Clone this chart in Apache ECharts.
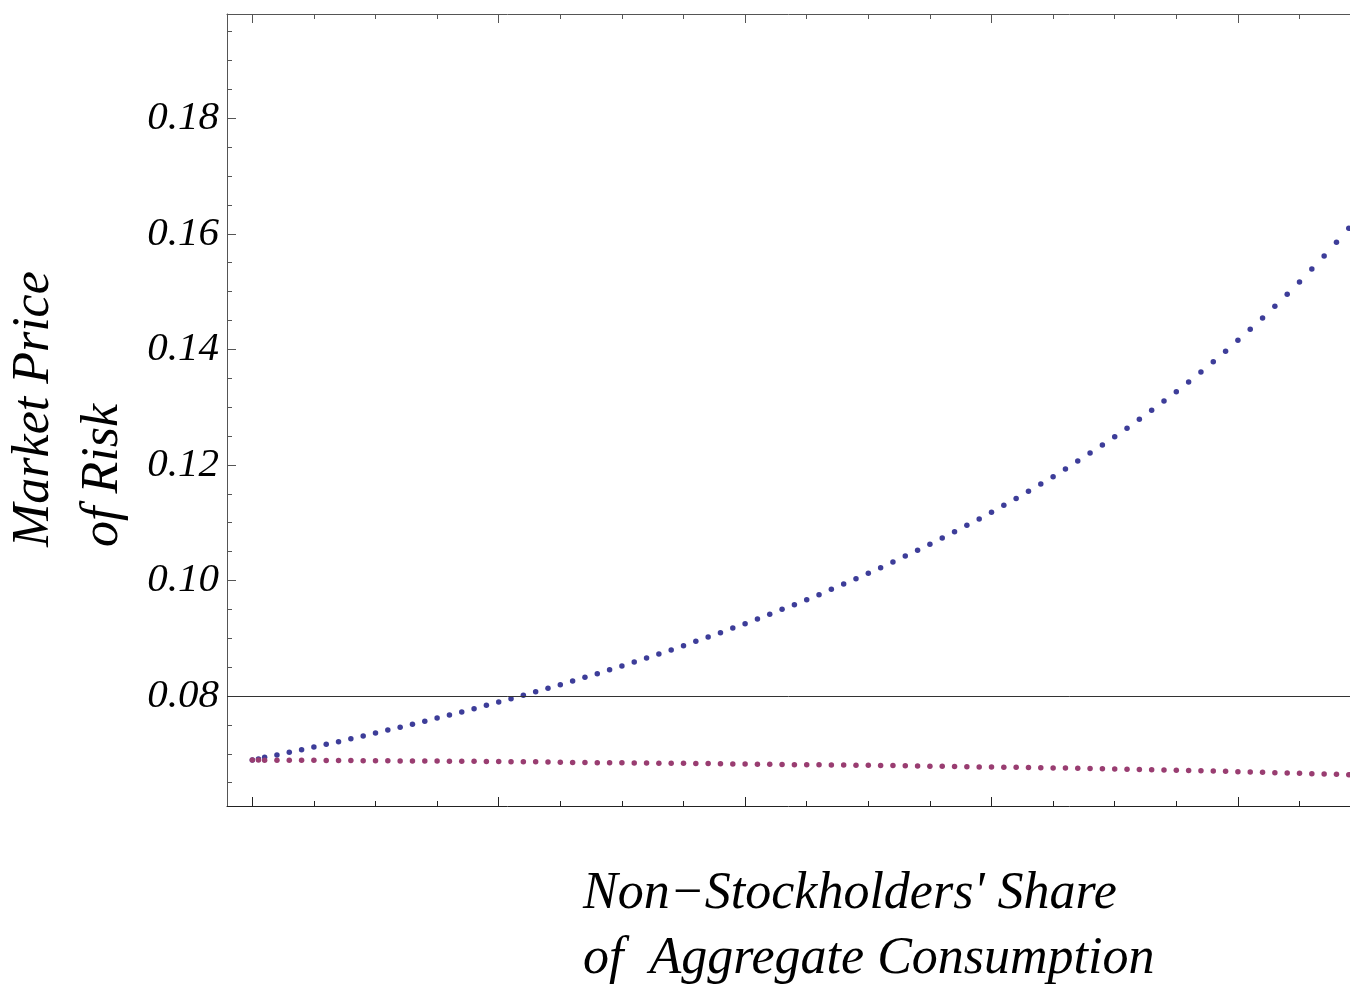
<!DOCTYPE html>
<html>
<head>
<meta charset="utf-8">
<script src="https://cdn.jsdelivr.net/npm/echarts@6/dist/echarts.min.js"></script>
<style>
html,body{margin:0;padding:0;background:#fff;}
#chart{width:1350px;height:994px;}
</style>
</head>
<body>
<div id="chart"></div>
<script>
// Non-stockholders' share (x, unlabelled in the original)
const xs = [0, 0.0025, 0.005, 0.01, 0.015, 0.02, 0.025, 0.03, 0.035, 0.04, 0.045, 0.05,
  0.055, 0.06, 0.065, 0.07, 0.075, 0.08, 0.085, 0.09, 0.095, 0.1,
  0.105, 0.11, 0.115, 0.12, 0.125, 0.13, 0.135, 0.14, 0.145, 0.15,
  0.155, 0.16, 0.165, 0.17, 0.175, 0.18, 0.185, 0.19, 0.195, 0.2,
  0.205, 0.21, 0.215, 0.22, 0.225, 0.23, 0.235, 0.24, 0.245, 0.25,
  0.255, 0.26, 0.265, 0.27, 0.275, 0.28, 0.285, 0.29, 0.295, 0.3,
  0.305, 0.31, 0.315, 0.32, 0.325, 0.33, 0.335, 0.34, 0.345, 0.35,
  0.355, 0.36, 0.365, 0.37, 0.375, 0.38, 0.385, 0.39, 0.395, 0.4,
  0.405, 0.41, 0.415, 0.42, 0.425, 0.43, 0.435, 0.44, 0.445];

// Market price of risk, upper (blue) series
const blueSeries = [0.06892, 0.06909, 0.06939, 0.06979, 0.07025, 0.07070, 0.07117, 0.07164, 0.07209, 0.07261, 0.07308, 0.07360,
  0.07411, 0.07458, 0.07510, 0.07562, 0.07619, 0.07671, 0.07723, 0.07780, 0.07839, 0.07896,
  0.07953, 0.08012, 0.08074, 0.08133, 0.08196, 0.08260, 0.08324, 0.08386, 0.08455, 0.08519,
  0.08589, 0.08658, 0.08727, 0.08796, 0.08871, 0.08947, 0.09021, 0.09096, 0.09177, 0.09252,
  0.09333, 0.09414, 0.09501, 0.09580, 0.09667, 0.09754, 0.09847, 0.09939, 0.10030, 0.10124,
  0.10221, 0.10320, 0.10423, 0.10522, 0.10626, 0.10735, 0.10844, 0.10955, 0.11064, 0.11180,
  0.11301, 0.11419, 0.11543, 0.11670, 0.11796, 0.11929, 0.12068, 0.12206, 0.12345, 0.12489,
  0.12634, 0.12790, 0.12945, 0.13106, 0.13267, 0.13435, 0.13608, 0.13787, 0.13967, 0.14157,
  0.14348, 0.14543, 0.14746, 0.14953, 0.15166, 0.15391, 0.15616, 0.15853, 0.16096];

// Market price of risk, lower (magenta) series
const pinkSeries = [0.06892, 0.06891, 0.06890, 0.06889, 0.06888, 0.06887, 0.06886, 0.06884, 0.06883, 0.06882, 0.06881, 0.06880,
  0.06878, 0.06877, 0.06875, 0.06874, 0.06873, 0.06872, 0.06871, 0.06869, 0.06868, 0.06866,
  0.06864, 0.06862, 0.06860, 0.06857, 0.06854, 0.06851, 0.06849, 0.06846, 0.06845, 0.06843,
  0.06841, 0.06840, 0.06838, 0.06836, 0.06834, 0.06832, 0.06830, 0.06828, 0.06825, 0.06822,
  0.06819, 0.06817, 0.06815, 0.06812, 0.06810, 0.06808, 0.06806, 0.06804, 0.06802, 0.06800,
  0.06797, 0.06795, 0.06791, 0.06788, 0.06786, 0.06782, 0.06779, 0.06776, 0.06773, 0.06770,
  0.06767, 0.06765, 0.06761, 0.06758, 0.06755, 0.06752, 0.06748, 0.06744, 0.06741, 0.06736,
  0.06733, 0.06729, 0.06724, 0.06719, 0.06715, 0.06712, 0.06707, 0.06702, 0.06697, 0.06690,
  0.06684, 0.06679, 0.06672, 0.06667, 0.06662, 0.06655, 0.06650, 0.06645, 0.06638];

// Ticks
const yMajorTicks = [0.08, 0.10, 0.12, 0.14, 0.16, 0.18];
const yMinorTicks = [0.065, 0.07, 0.075, 0.085, 0.09, 0.095, 0.105, 0.11, 0.115, 0.125, 0.13, 0.135,
  0.145, 0.15, 0.155, 0.165, 0.17, 0.175, 0.185, 0.19, 0.195];
const xMajorTicks = [0, 0.1, 0.2, 0.3, 0.4];
const xMinorTicks = [0.025, 0.05, 0.075, 0.125, 0.15, 0.175, 0.225, 0.25, 0.275, 0.325, 0.35, 0.375, 0.425];
const referenceLevel = 0.08;

const xTitle = ["Non\u2212Stockholders' Share", "of  Aggregate Consumption"];
const yTitle = ["Market Price", "of Risk"];

const X_MIN = -0.01027, X_MAX = 0.44549;
const Y_MIN = 0.06096, Y_MAX = 0.19806;

const FONT = '"Liberation Serif", "Times New Roman", serif';
const frameColor = '#555';

function xAx(pos, ticks, len, showLine, lineColor) {
  return {
    type: 'value', position: pos, min: X_MIN, max: X_MAX, scale: true,
    axisLine: { show: showLine, onZero: false, lineStyle: { color: lineColor, width: 1 } },
    axisTick: { show: true, inside: true, length: len, customValues: ticks, lineStyle: { color: lineColor, width: 1 } },
    axisLabel: { show: false, customValues: ticks },
    splitLine: { show: false }, minorTick: { show: false }
  };
}
function yAx(ticks, len, showLine, showLabel) {
  return {
    type: 'value', position: 'left', min: Y_MIN, max: Y_MAX, scale: true,
    axisLine: { show: showLine, onZero: false, lineStyle: { color: frameColor, width: 1 } },
    axisTick: { show: true, inside: true, length: len, customValues: ticks, lineStyle: { color: frameColor, width: 1 } },
    axisLabel: {
      show: showLabel, customValues: ticks, margin: 8,
      formatter: v => v.toFixed(2),
      fontFamily: FONT, fontStyle: 'italic', fontSize: 41, color: '#000'
    },
    splitLine: { show: false }
  };
}

const titleFont = 'italic 52px ' + FONT;
const chart = echarts.init(document.getElementById('chart'), null, { renderer: 'canvas' });
chart.setOption({
  animation: false,
  backgroundColor: '#fff',
  grid: { left: 227, right: 0, top: 14, bottom: 188, containLabel: false },
  xAxis: [
    xAx('bottom', xMajorTicks, 9, true, '#222'),
    xAx('bottom', xMinorTicks, 5, false, '#222'),
    xAx('top', xMajorTicks, 9, true, frameColor),
    xAx('top', xMinorTicks, 5, false, frameColor)
  ],
  yAxis: [
    yAx(yMajorTicks, 9, true, true),
    yAx(yMinorTicks, 5, false, false)
  ],
  series: [
    {
      type: 'scatter', name: 'upper', xAxisIndex: 0, yAxisIndex: 0,
      symbol: 'circle', symbolSize: 5.5,
      itemStyle: { color: '#3d3d99', opacity: 1 },
      data: xs.map((x, i) => [x, blueSeries[i]]),
      markLine: {
        silent: true, symbol: ['none', 'none'], label: { show: false },
        lineStyle: { color: '#333', width: 1, type: 'solid' },
        data: [{ yAxis: referenceLevel }]
      },
      z: 2
    },
    {
      type: 'scatter', name: 'lower', xAxisIndex: 0, yAxisIndex: 0,
      symbol: 'circle', symbolSize: 5.5,
      itemStyle: { color: '#993d71', opacity: 1 },
      data: xs.map((x, i) => [x, pinkSeries[i]]),
      z: 3
    }
  ],
  graphic: [
    { type: 'text', x: 583, y: 894, silent: true,
      style: { text: xTitle[0], font: titleFont, fill: '#000',
        align: 'left', verticalAlign: 'middle', textAlign: 'left', textVerticalAlign: 'middle' } },
    { type: 'text', x: 583, y: 959, silent: true,
      style: { text: xTitle[1], font: titleFont, fill: '#000',
        align: 'left', verticalAlign: 'middle', textAlign: 'left', textVerticalAlign: 'middle' } },
    { type: 'text', x: 34, y: 547, rotation: Math.PI / 2, silent: true,
      style: { text: yTitle[0], font: titleFont, fill: '#000',
        align: 'left', verticalAlign: 'middle', textAlign: 'left', textVerticalAlign: 'middle' } },
    { type: 'text', x: 103, y: 547, rotation: Math.PI / 2, silent: true,
      style: { text: yTitle[1], font: titleFont, fill: '#000',
        align: 'left', verticalAlign: 'middle', textAlign: 'left', textVerticalAlign: 'middle' } }
  ]
});
</script>
</body>
</html>
